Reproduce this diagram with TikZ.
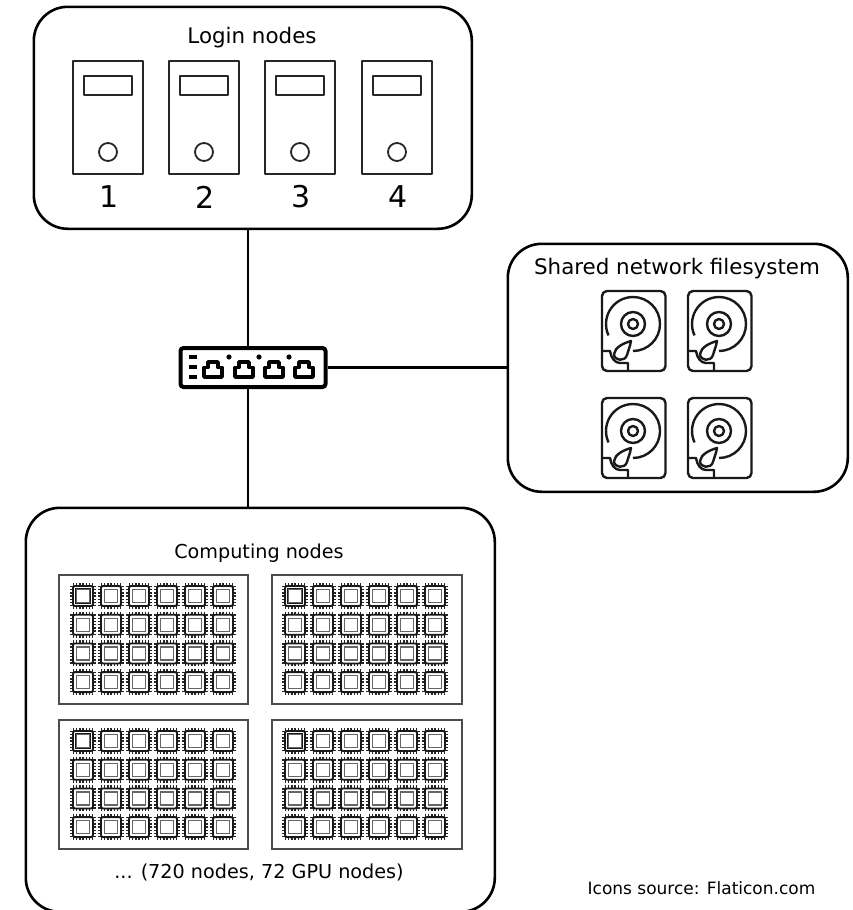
\documentclass[tikz,border=0pt]{standalone}
\usepackage{fontspec}
\setmainfont{DejaVu Sans}
\tikzset{
  x=1pt,y=-1pt,
  group/.style={draw=black,line width=2.6pt,rounded corners=34pt,inner sep=0pt,anchor=north west},
  rackbox/.style={draw=black!70,line width=2.3pt,inner sep=0pt,anchor=north west},
  lbl/.style={inner sep=0pt,font=\fontsize{21.4}{24}\selectfont},
  small/.style={inner sep=0pt,font=\fontsize{19.2}{22}\selectfont},
  num/.style={inner sep=0pt,font=\fontsize{30}{34}\selectfont},
  link/.style={draw=black,line width=2.8pt},
  icon/.style={draw=black!85,line width=1.8pt,line join=round},
  hddline/.style={draw=black!90,line width=2.4pt,line join=round},
  pics/server/.style={code={
    \draw[icon] (0,0) rectangle (70,113);
    \draw[icon] (11,15) rectangle (59,34);
    \draw[icon] (35,91) circle[radius=9pt];
  }},
  pics/hdd/.style={code={
    \draw[hddline,rounded corners=5pt] (0,0) rectangle (63.5,80);
    \draw[hddline] (31,60) arc[start angle=-90,end angle=205,radius=27pt];
    \draw[hddline] (31,33) circle[radius=12pt];
    \draw[hddline] (31,33) circle[radius=5pt];
    \draw[hddline] (29,50) .. controls (22,52) and (13,56) .. (12,63)
       .. controls (12,70) and (23,71) .. (25,64) .. controls (26,60) and (28,56) .. cycle;
    \draw[hddline] (0,60) -- (8,60) .. controls (9,67) and (13,72) .. (18,72) -- (26,72) -- (26,80);
  }},
  pics/chip/.style={code={
    \foreach \t in {-9.6,-6.4,-3.2,0,3.2,6.4,9.6}{
      \draw[draw=black!85,line width=1.4pt] (\t,-13) -- (\t,-10);
      \draw[draw=black!85,line width=1.4pt] (\t,10) -- (\t,13);
      \draw[draw=black!85,line width=1.4pt] (-13,\t) -- (-10,\t);
      \draw[draw=black!85,line width=1.4pt] (10,\t) -- (13,\t);
    }
    \draw[draw=black!90,line width=1.8pt,rounded corners=2pt] (-10,-10) rectangle (10,10);
    \draw[draw=black!60,line width=1.3pt] (-6.5,-6.5) rectangle (6.5,6.5);
  }},
  pics/chipgrid/.style={code={
    \foreach \cx in {0,28,56,84,112,140}{
      \foreach \cy in {0,28.7,57.4,86.1}{
        \pic at (\cx,\cy) {chip};
      }
    }
    \draw[draw=black!90,line width=1.9pt] (-7.5,-7.5) rectangle (7.5,7.5);
  }},
}
\begin{document}
\begin{tikzpicture}
\useasboundingbox (0,0) rectangle (853,910);

% groups
\node[group,minimum width=438pt,minimum height=222pt] (login) at (32.5,5.5) {};
\node[group,minimum width=340pt,minimum height=248pt] (shared) at (506.5,242.5) {};
\begin{scope}
\clip (0,0) rectangle (853,910);
\node[group,minimum width=469pt,minimum height=404pt] (computing) at (24.5,506.5) {};
\end{scope}

% labels
\node[lbl] (loginlabel) at (252,38) {Login nodes};
\node[lbl] (sharedlabel) at (677,269) {Shared network filesystem};
\node[small] (computelabel) at (259,553) {Computing nodes};
\node[small] (countlabel) at (259,872) {... (720 nodes, 72 GPU nodes)};
\node[inner sep=0pt,font=\fontsize{17}{20}\selectfont] (source) at (701.5,888.5) {Icons source: Flaticon.com};

% login servers
\pic at (73,61) {server};
\pic at (169,61) {server};
\pic at (265,61) {server};
\pic at (362,61) {server};
\node[num] (n1) at (109,197) {1};
\node[num] (n2) at (205.5,197) {2};
\node[num] (n3) at (301.5,197) {3};
\node[num] (n4) at (398,197) {4};

% disks
\pic at (602,291) {hdd};
\pic at (688,291) {hdd};
\pic at (602,398) {hdd};
\pic at (688,398) {hdd};

% computing racks
\node[rackbox,minimum width=189pt,minimum height=129pt] (rackA) at (57.5,573.5) {};
\node[rackbox,minimum width=190pt,minimum height=129pt] (rackB) at (270.5,573.5) {};
\node[rackbox,minimum width=189pt,minimum height=129pt] (rackC) at (57.5,718.5) {};
\node[rackbox,minimum width=190pt,minimum height=129pt] (rackD) at (270.5,718.5) {};
\pic at (83,596) {chipgrid};
\pic at (295,596) {chipgrid};
\pic at (83,741) {chipgrid};
\pic at (295,741) {chipgrid};

% switch
\node[draw=black,line width=4pt,inner sep=0pt,minimum width=145pt,minimum height=39pt,anchor=north west,
      rounded corners=3pt] (switch) at (178.5,346) {};
\coordinate (swtop) at (248,347);
\coordinate (swbot) at (248,386);
\foreach \yy in {357,367,377}{
  \draw[line width=3.6pt,draw=black] (189,\yy) -- (197,\yy);
}
\foreach \xx in {213,244,274,304}{
  \draw[line width=3.6pt,draw=black,line join=round]
    (\xx-9,377) -- (\xx-9,367.5) -- (\xx-5,367.5) -- (\xx-5,362) -- (\xx+5,362) -- (\xx+5,367.5) -- (\xx+9,367.5) -- (\xx+9,377) -- cycle;
}
\foreach \xx in {229,259,289}{
  \fill[black] (\xx,357) circle[radius=2.6pt];
}

% connectors
\draw[link] (login.south -| swtop) -- (swtop);
\draw[link] (swbot) -- (computing.north -| swbot);
\draw[link] (switch.east) -- (shared.west |- switch.east);
\end{tikzpicture}
\end{document}
